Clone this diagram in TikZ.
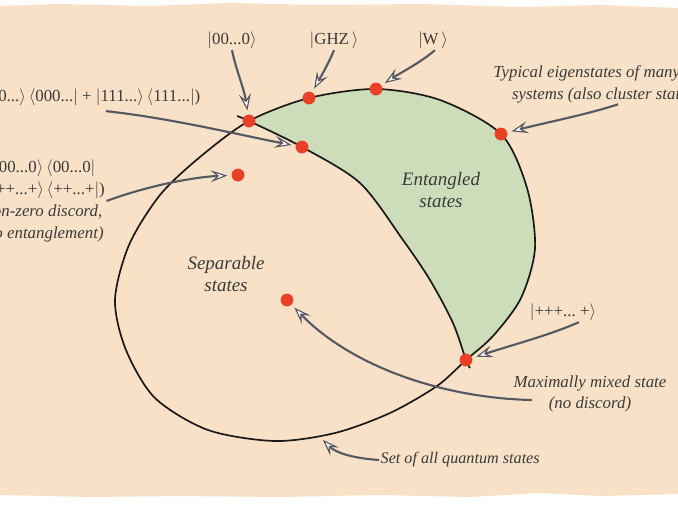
\documentclass[tikz,border=0pt]{standalone}
\usepackage{amsmath}
\usepackage{fontspec}
\setmainfont{Liberation Serif}
\usetikzlibrary{arrows.meta, positioning, calc}

\definecolor{paper}{RGB}{248,225,198}
\definecolor{entgreen}{RGB}{205,220,185}
\definecolor{dotred}{RGB}{234,64,38}
\definecolor{pointergray}{RGB}{84,88,98}
\definecolor{inkblack}{RGB}{25,25,25}
\definecolor{textgray}{RGB}{58,58,58}

\newcommand{\kett}[1]{$|$#1$\rangle$}
\newcommand{\brat}[1]{$\langle$#1$|$}

\begin{document}
\begin{tikzpicture}[
    x=0.025cm, y=-0.025cm,
    dot/.style={circle, fill=dotred, inner sep=0pt, minimum size=3.2mm},
    lab/.style={font=\fontsize{12}{15.5}\selectfont\itshape, text=textgray, align=center, inner sep=1pt},
    ketlab/.style={font=\fontsize{12}{15.5}\selectfont, text=textgray, inner sep=1pt},
    pointer/.style={draw=pointergray, line width=1.5pt, shorten >=1mm,
        -{Stealth[length=4.2mm, width=3mm, inset=1.7mm, fill=white, line width=0.8pt]}},
    boundary/.style={draw=inkblack, line width=1.2pt}
]
% paper
\fill[white] (0,0) rectangle (678,509);
\fill[paper] (0,6) -- (60,4) -- (150,6) -- (230,3) -- (320,5) -- (420,4) -- (520,7) -- (600,5) -- (678,8)
    -- (678,494) -- (600,496) -- (540,493) -- (470,497) -- (380,495) -- (280,497) -- (180,496) -- (90,497) -- (0,495) -- cycle;
\useasboundingbox (0,0) rectangle (678,509);

% points on the boundaries
\coordinate (p00) at (249,121);
\coordinate (pGHZ) at (309,98);
\coordinate (pW) at (376,89);
\coordinate (pTyp) at (501,134);
\coordinate (pPlus) at (466,360);
\coordinate (pMix) at (302,147);
\coordinate (pDisc) at (238,175);
\coordinate (pSep) at (287,300);
\coordinate (pSet) at (320,437);

% entangled region
\begin{scope}
\clip plot[smooth cycle] coordinates {(p00) (pGHZ) (pW) (440,100) (pTyp) (527,188) (535,248) (521,298) (493,336) (pPlus)
    (437,386) (390,413) (335,433) (275,441) (208,430) (155,398) (126,350) (115,300) (129,245) (160,195) (200,157)};
\fill[entgreen] plot[smooth] coordinates {(237,116) (p00) (pMix) (360,183) (403,240) (430,280) (453,323) (pPlus) (470,368)}
    -- (700,368) -- (700,-10) -- (237,-10) -- cycle;
\end{scope}

% all states and separable boundary
\draw[boundary] plot[smooth cycle] coordinates {(p00) (pGHZ) (pW) (440,100) (pTyp) (527,188) (535,248) (521,298) (493,336) (pPlus)
    (437,386) (390,413) (335,433) (275,441) (208,430) (155,398) (126,350) (115,300) (129,245) (160,195) (200,157)};
\draw[boundary] plot[smooth] coordinates {(237,116) (p00) (pMix) (360,183) (403,240) (430,280) (453,323) (pPlus) (470,368)};

% states
\node[dot] (d00) at (p00) {};
\node[dot] (dGHZ) at (pGHZ) {};
\node[dot] (dW) at (pW) {};
\node[dot] (dTyp) at (pTyp) {};
\node[dot] (dPlus) at (pPlus) {};
\node[dot] (dMix) at (pMix) {};
\node[dot] (dDisc) at (pDisc) {};
\node[dot] (dSep) at (pSep) {};

% labels
\node[ketlab] (k00) at (232,40) {\kett{00...0}};
\node[ketlab] (kGHZ) at (334,40) {\kett{GHZ\,}};
\node[ketlab] (kW) at (433,40) {\kett{W\,}};
\node[lab] (kTyp) at (606,84) {Typical eigenstates of many-body\\systems (also cluster states)};
\node[ketlab, anchor=east] (kMix) at (202,97) {(\kett{000...}\,\brat{000...} + \kett{111...}\,\brat{111...})};
\node[ketlab, align=center] (kDisc) at (42,201) {(\kett{00...0}\,\brat{00...0}\\+\,\kett{++...+}\,\brat{++...+})\\
    {\itshape Non-zero discord,}\\{\itshape (no entanglement)}};
\node[lab, font=\fontsize{13.5}{16}\selectfont\itshape] (tEnt) at (441,190) {Entangled\\states};
\node[lab, font=\fontsize{13.5}{16}\selectfont\itshape] (tSep) at (226,274) {Separable\\states};
\node[ketlab] (kPlus) at (563,312) {\kett{+++...\ +}};
\node[lab] (kMax) at (590,394) {Maximally mixed state\\(no discord)};
\node[lab, font=\fontsize{11.5}{15}\selectfont\itshape, anchor=west] (kSet) at (379,460) {Set of all quantum states};

% pointers
\draw[pointer] (k00.south) .. controls (236,70) and (244,88) .. (d00);
\draw[pointer] (kGHZ.south) .. controls (328,65) and (320,78) .. (dGHZ);
\draw[pointer] ([xshift=0.05cm]kW.south) .. controls (420,63) and (400,73) .. (dW);
\draw[pointer] ([xshift=0.3cm]kTyp.south) .. controls (585,115) and (548,122) .. (dTyp);
\draw[pointer] ([xshift=-2.4cm,yshift=-0.1cm]kMix.south east) .. controls (170,118) and (240,135) .. (dMix);
\draw[pointer] (kDisc.east) .. controls (150,185) and (195,177) .. (dDisc);
\draw[pointer] ([xshift=0.5cm,yshift=-0.15cm]kMax.west) .. controls (440,398) and (350,365) .. (dSep);
\draw[pointer] ([xshift=0.4cm]kPlus.south) .. controls (550,335) and (512,345) .. (dPlus);
\draw[pointer] (kSet.west) .. controls (350,458) and (335,452) .. (pSet);
\end{tikzpicture}
\end{document}
